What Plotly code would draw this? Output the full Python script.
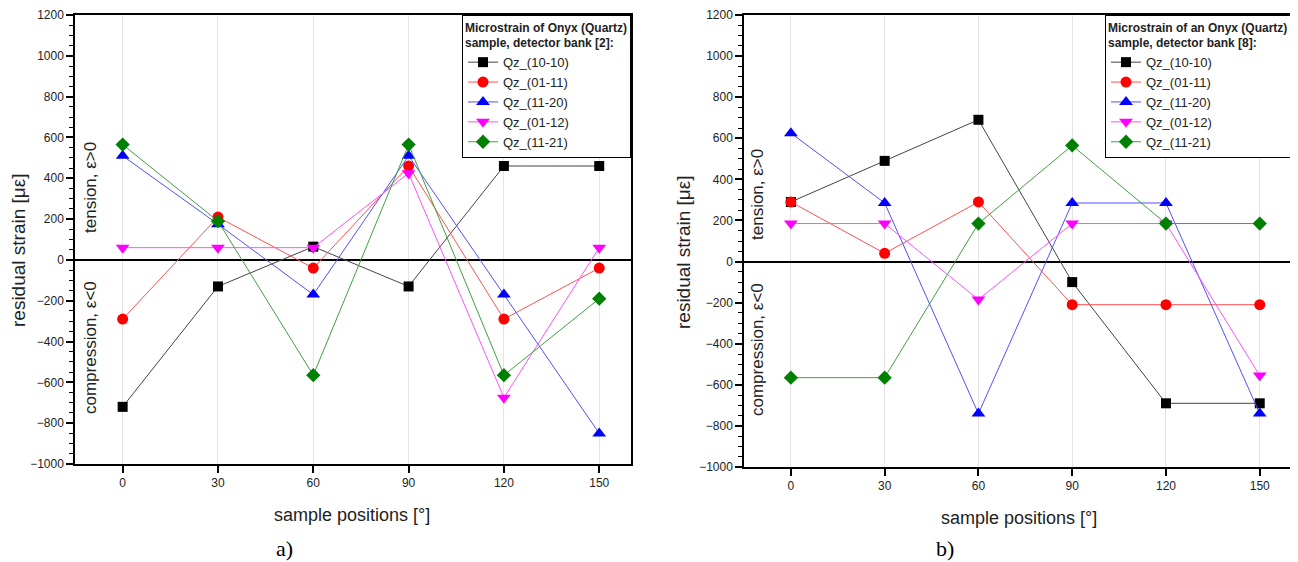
import plotly.graph_objects as go

positions = [0, 30, 60, 90, 120, 150]
series_names = ["Qz_(10-10)", "Qz_(01-11)", "Qz_(11-20)", "Qz_(01-12)", "Qz_(11-21)"]

# panel a) detector bank [2]
a_10_10 = [-720, -130, 65, -130, 460, 460]
a_01_11 = [-290, 210, -40, 460, -290, -40]
a_11_20 = [510, 175, -170, 510, -170, -850]
a_01_12 = [60, 60, 60, 425, -675, 60]
a_11_21 = [565, 190, -565, 565, -565, -190]

# panel b) detector bank [8]
b_10_10 = [290, 490, 690, -100, -690, -690]
b_01_11 = [290, 40, 290, -210, -210, -210]
b_11_20 = [625, 285, -740, 285, 285, -740]
b_01_12 = [185, 185, -185, 185, 185, -555]
b_11_21 = [-565, -565, 185, 565, 185, 185]

marker_colors = ["#000000", "#ff0000", "#0000ff", "#ff00ff", "#008000"]
line_colors = ["#444444", "#ff5050", "#5050ff", "#ff50ff", "#40a040"]
symbols = ["square", "circle", "triangle-up", "triangle-down", "diamond"]
sizes = [10, 11, 12, 12, 11]

W, H = 1298, 562
OFF = 8  # page body margin offset
FONT = "Liberation Sans, Arial, sans-serif"

def px(x):
    return (x - OFF) / W

def py(y):
    return 1 - (y - OFF) / H

fig = go.Figure()

panels = [
    ("x", "y", "legend", [a_10_10, a_01_11, a_11_20, a_01_12, a_11_21]),
    ("x2", "y2", "legend2", [b_10_10, b_01_11, b_11_20, b_01_12, b_11_21]),
]
for xa, ya, lg, data in panels:
    for i, vals in enumerate(data):
        fig.add_trace(go.Scatter(
            x=positions, y=vals, mode="lines+markers", name=series_names[i],
            xaxis=xa, yaxis=ya, legend=lg,
            line=dict(color=line_colors[i], width=1),
            marker=dict(symbol=symbols[i], size=sizes[i], color=marker_colors[i],
                        line=dict(width=0)),
        ))

xaxis_common = dict(
    range=[-15, 160], tickvals=positions, ticks="outside", ticklen=7, tickwidth=1.5,
    tickcolor="black", showgrid=True, gridcolor="#e4e4e4", gridwidth=1,
    zeroline=False, showline=True, mirror=True, linecolor="black", linewidth=1.5,
    tickfont=dict(family=FONT, size=12, color="#222"), fixedrange=True,
    automargin=False,
)
yaxis_common = dict(
    range=[-1000, 1200], dtick=200, ticks="outside", ticklen=7, tickwidth=1.5,
    tickcolor="black", showgrid=False, zeroline=True, zerolinecolor="black",
    zerolinewidth=1.5, showline=True, mirror=True, linecolor="black", linewidth=1.5,
    minor=dict(dtick=50, ticks="outside", ticklen=4, tickcolor="black", tickwidth=1),
    tickfont=dict(family=FONT, size=12, color="#222"), fixedrange=True,
    automargin=False,
)

# plot areas (pixel coords in the reference picture)
A = dict(l=75, r=631, t=15, b=464)
B = dict(l=744, r=1291, t=15, b=467)

fig.update_layout(
    width=W, height=H, autosize=False,
    margin=dict(l=0, r=0, t=0, b=0, pad=0),
    paper_bgcolor="white", plot_bgcolor="white",
    font=dict(family=FONT, color="black"),
    xaxis=dict(domain=[px(A["l"]), px(A["r"])], anchor="y", **xaxis_common),
    yaxis=dict(domain=[py(A["b"]), py(A["t"])], anchor="x", **yaxis_common),
    xaxis2=dict(domain=[px(B["l"]), px(B["r"])], anchor="y2", **xaxis_common),
    yaxis2=dict(domain=[py(B["b"]), py(B["t"])], anchor="x2", **yaxis_common),
    legend=dict(
        x=px(A["r"]), y=py(A["t"]), xanchor="right", yanchor="top",
        bordercolor="black", borderwidth=1, bgcolor="white",
        font=dict(family=FONT, size=13, color="#222"),
        title=dict(text="<b>Microstrain of Onyx (Quartz)<br>sample, detector bank [2]:</b>",
                   font=dict(family=FONT, size=12, color="#222"), side="top"),
        tracegroupgap=0, itemwidth=30,
    ),
    legend2=dict(
        x=px(B["r"]), y=py(B["t"]), xanchor="right", yanchor="top",
        bordercolor="black", borderwidth=1, bgcolor="white",
        font=dict(family=FONT, size=13, color="#222"),
        title=dict(text="<b>Microstrain of an Onyx (Quartz)<br>sample, detector bank [8]:</b>",
                   font=dict(family=FONT, size=12, color="#222"), side="top"),
        tracegroupgap=0, itemwidth=30,
    ),
    showlegend=True,
)

annos = []
def text(x, y, s, size, angle=0, family=FONT, color="#222"):
    annos.append(dict(x=px(x), y=py(y), xref="paper", yref="paper", text=s,
                      showarrow=False, textangle=angle, xanchor="center", yanchor="middle",
                      font=dict(family=family, size=size, color=color)))

# panel a texts
text(18, 250, "residual strain [με]", 19, -90)
text(90, 188, "tension, ε>0", 17, -90)
text(90, 348, "compression, ε<0", 17, -90)
text(352, 515, "sample positions [°]", 18)
text(284, 548, "a)", 22, family="Liberation Serif, Times New Roman, serif", color="black")
# panel b texts
text(684, 252, "residual strain [με]", 19, -90)
text(757, 195, "tension, ε>0", 17, -90)
text(757, 350, "compression, ε<0", 17, -90)
text(1019, 518, "sample positions [°]", 18)
text(945, 548, "b)", 22, family="Liberation Serif, Times New Roman, serif", color="black")

fig.update_layout(annotations=annos)

fig.write_html("out.html")
